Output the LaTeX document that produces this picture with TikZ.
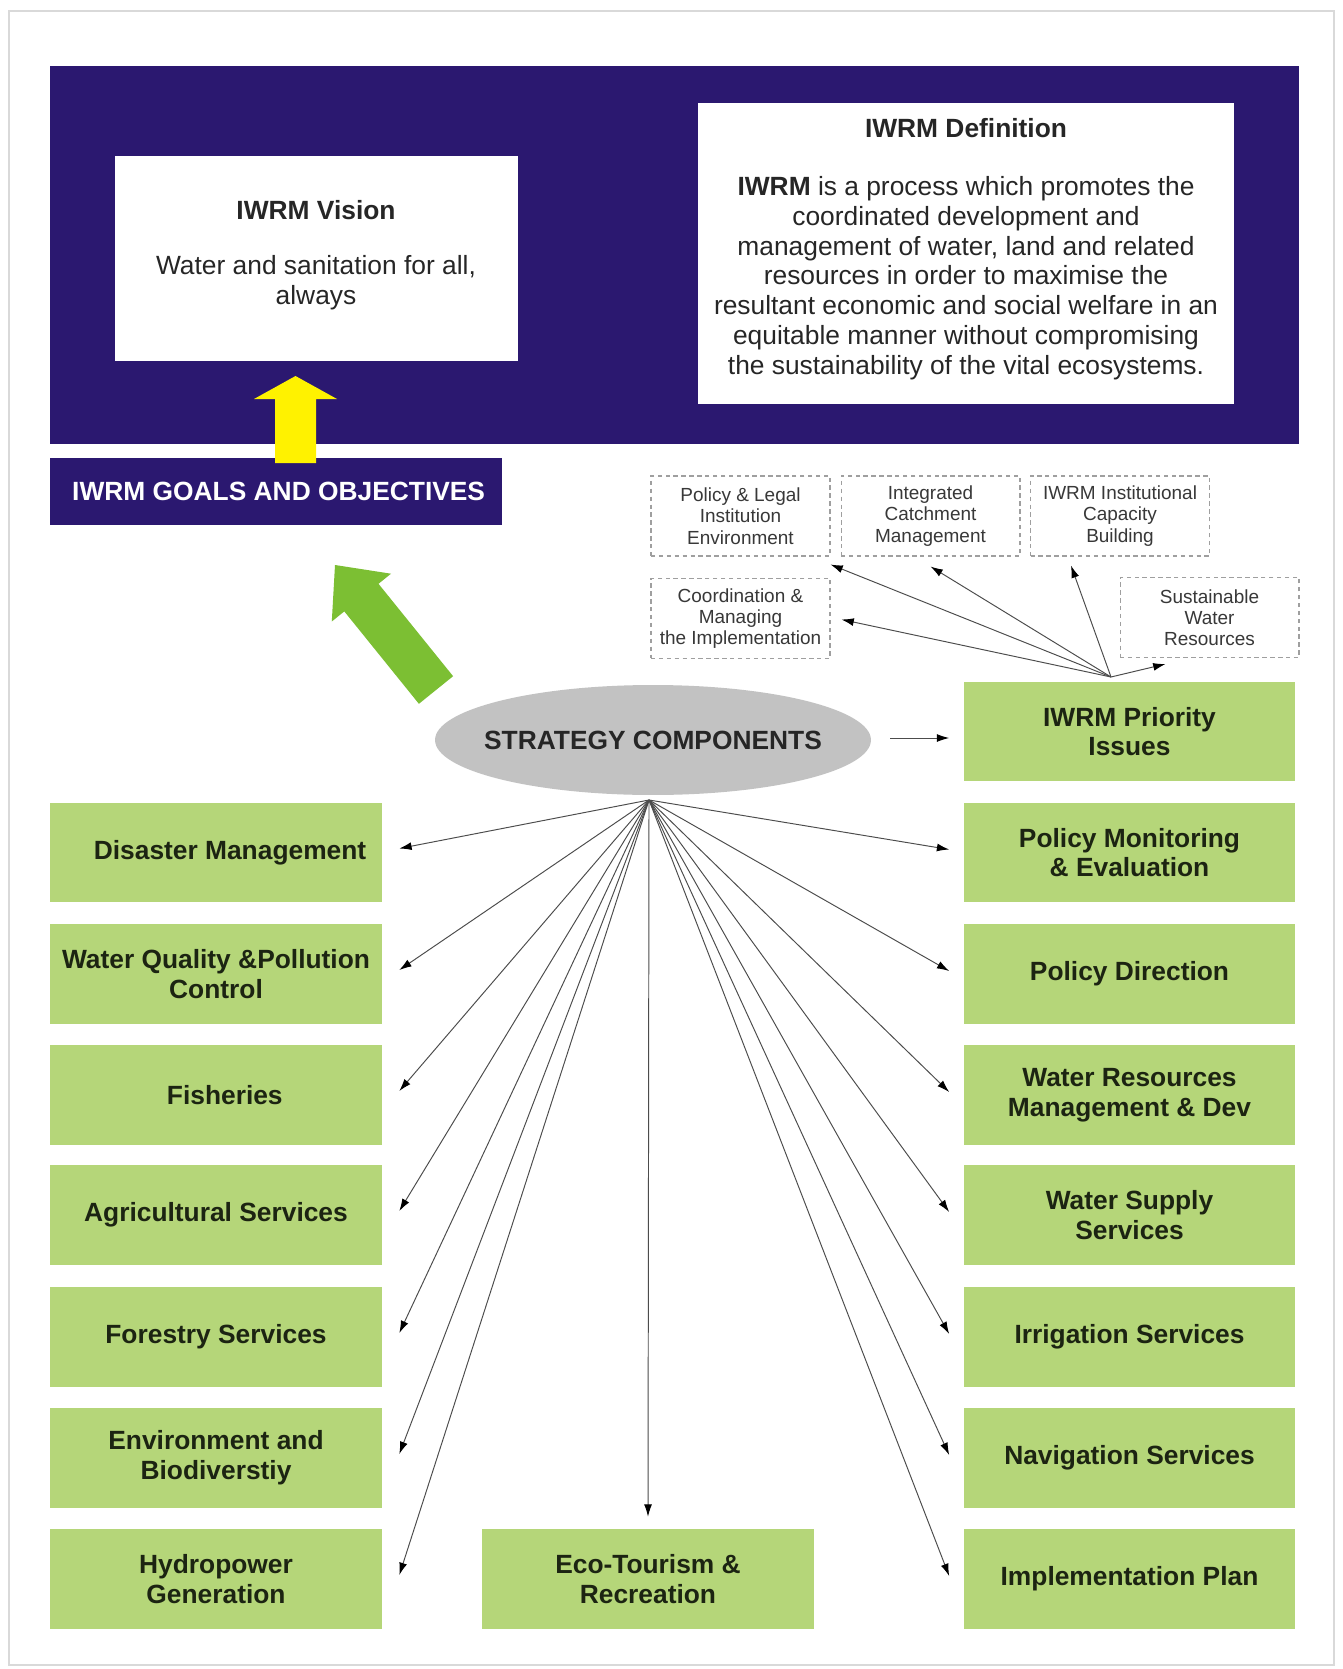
\documentclass[tikz,border=0pt]{standalone}
\usepackage{fontspec}
\setmainfont{Liberation Sans}
\usetikzlibrary{fit,calc,arrows.meta,shapes.geometric}
\definecolor{navy}{HTML}{2B1870}
\definecolor{boxgreen}{HTML}{B5D679}
\definecolor{arrowgreen}{HTML}{7CBF33}
\definecolor{txtdark}{HTML}{1C2412}
\definecolor{txtgray}{HTML}{262626}
\def\pxu{0.569055pt}
\begin{document}
\begin{tikzpicture}[x=0.02cm,y=-0.02cm,
  bigfont/.style={font=\fontsize{15}{16.96}\selectfont},
  gbox/.style={fill=boxgreen, inner sep=0pt, align=center, font=\fontsize{15}{16.96}\selectfont\bfseries, text=txtdark, minimum width=332*\pxu, minimum height=100*\pxu},
  wbox/.style={fill=white, inner sep=0pt},
  dbox/.style={draw=gray!75, dash pattern=on 2.5pt off 2pt, line width=0.6pt, inner sep=0pt, align=center, font=\fontsize{10.8}{12.1}\selectfont, text=black!78, minimum width=179*\pxu, minimum height=80*\pxu},
  conn/.style={draw=black!70, line width=0.55pt, -{Latex[length=7pt,width=4.5pt,color=black]}},
]
\useasboundingbox (0,0) rectangle (1342,1669);
\fill[white] (0,0) rectangle (1342,1669);
\draw[gray!30, line width=1pt] (9,11) rectangle (1334,1665);

% top navy panel
\node[fill=navy, inner sep=0pt, fit={(50,66)(1299,444)}] (panel) {};
\node[wbox, fit={(115,156)(518,361)}] (vision) {};
\node[font=\fontsize{15}{16.96}\selectfont\bfseries, text=txtgray] (vtitle) at (316,210) {IWRM Vision};
\node[bigfont, align=center, text=txtgray] (vtext) at (316,283) {Water and sanitation for all,\\always};

\node[wbox, fit={(698,103)(1234,404)}] (defn) {};
\node[font=\fontsize{15}{16.96}\selectfont\bfseries, text=txtgray] (dtitle) at (966,128) {IWRM Definition};
\node[bigfont, align=center, text=txtgray] (dtext) at (966,278) {\textbf{IWRM} is a process which promotes the\\coordinated development and\\management of water, land and related\\resources in order to maximise the\\resultant economic and social welfare in an\\equitable manner without compromising\\the sustainability of the vital ecosystems.};

% goals
\node[fill=navy, inner sep=0pt, minimum width=452*\pxu, minimum height=67*\pxu, text=white, font=\fontsize{15}{16.96}\selectfont\bfseries] (goals) at (276,491.5) {\hspace*{3pt}IWRM GOALS AND OBJECTIVES};

% yellow arrow
\fill[yellow] (275,463) -- (275,399) -- (254,399) -- (295.5,376) -- (337,399) -- (316,399) -- (316,463) -- cycle;

% green arrow
\fill[arrowgreen] (418.9,703.8) -- (344.3,611.4) -- (331.8,621.5) -- (335,565) -- (391.0,573.7) -- (378.5,583.8) -- (453.1,676.2) -- cycle;

% dashed boxes
\node[dbox] (pl) at (740.5,516) {Policy \& Legal\\Institution\\Environment};
\node[dbox] (icm) at (930.5,516) {Integrated\\Catchment\\Management};
\node[dbox] (iicb) at (1120,516) {IWRM Institutional\\Capacity\\Building};
\node[dbox] (cm) at (740.5,618.5) {Coordination \&\\Managing\\the Implementation};
\node[dbox] (swr) at (1209.5,617.5) {Sustainable\\Water\\Resources};

% ellipse
\node[ellipse, fill=black!24, inner sep=0pt, minimum width=436*\pxu, minimum height=110*\pxu] (sc) at (653,740) {};
\node[font=\fontsize{15}{16.96}\selectfont\bfseries, text=txtgray] (sctext) at (sc.center) {STRATEGY COMPONENTS};

% right boxes
\node[gbox] (pri) at (1129.5,731.5) {IWRM Priority\\Issues};
\node[gbox] (pm) at (1129.5,852.5) {Policy Monitoring\\\& Evaluation};
\node[gbox] (pd) at (1129.5,974) {Policy Direction};
\node[gbox] (wr) at (1129.5,1095) {Water Resources\\Management \& Dev};
\node[gbox] (ws) at (1129.5,1215) {Water Supply\\Services};
\node[gbox] (irr) at (1129.5,1337) {Irrigation Services};
\node[gbox] (nav) at (1129.5,1458) {Navigation Services};
\node[gbox] (imp) at (1129.5,1579) {Implementation Plan};

% left boxes
\node[gbox] (dis) at (216,852.5) {\hspace*{16pt}Disaster Management};
\node[gbox] (wq) at (216,974) {Water Quality \&Pollution\\Control};
\node[gbox] (fish) at (216,1095) {\hspace*{10pt}Fisheries};
\node[gbox] (agri) at (216,1215) {Agricultural Services};
\node[gbox] (forest) at (216,1337) {Forestry Services};
\node[gbox] (env) at (216,1458) {Environment and\\Biodiverstiy};
\node[gbox] (hydro) at (216,1579) {Hydropower\\Generation};
\node[gbox] (eco) at (648,1579) {Eco-Tourism \&\\Recreation};

% connectors
\coordinate (fan) at (649,800);
\coordinate (fan2) at (1111,677);
\foreach \n in {dis,wq,fish,agri,forest,env,hydro}
  \draw[conn] (fan) -- ($(\n.east)+(17,-4)$);
\foreach \n in {pm,pd,wr,ws,irr,nav,imp}
  \draw[conn] (fan) -- ($(\n.west)+(-14,-3)$);
\draw[conn] (fan) -- ($(eco.north)+(0,-12)$);
\draw[conn] ($(sc.east)+(19,-2)$) -- ($(sc.east -| pri.west)+(-14,-2)$);

\draw[conn] (fan2) -- ($(pl.south east)+(0,8)$);
\draw[conn] (fan2) -- ($(icm.south)+(0,10)$);
\draw[conn] (fan2) -- ($(iicb.south west)+(41,9)$);
\draw[conn] (fan2) -- ($(cm.east)+(11,1)$);
\draw[conn] (fan2) -- ($(swr.south west)+(46,6)$);
\end{tikzpicture}
\end{document}
